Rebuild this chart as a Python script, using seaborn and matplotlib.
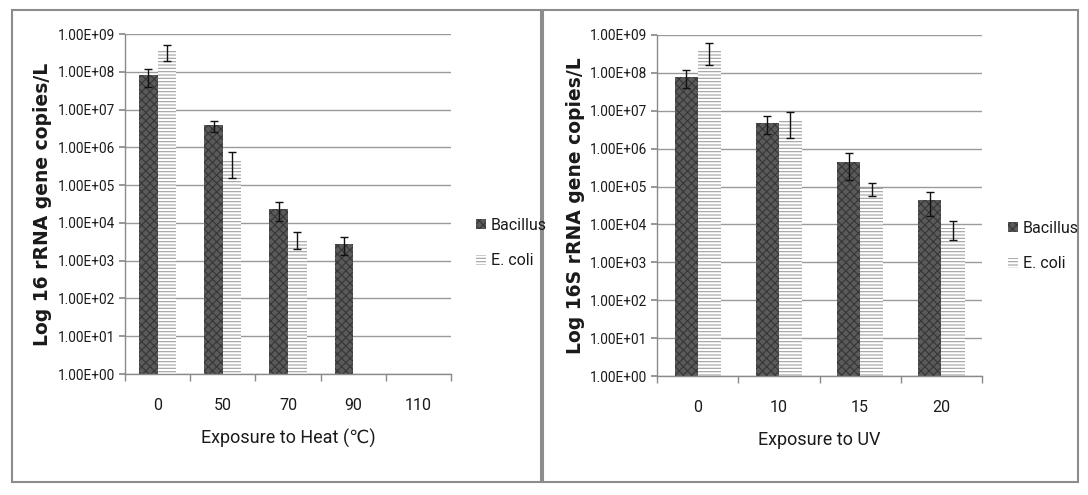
import numpy as np
import pandas as pd
import seaborn as sns
import matplotlib.pyplot as plt
from matplotlib import font_manager
from matplotlib.patches import Patch, Rectangle
from matplotlib.ticker import FixedLocator, FuncFormatter

# Heat exposure panel (deg C)
heat_levels = ["0", "50", "70", "90", "110"]
heat_bacillus = [8.0e7, 3.8e6, 2.3e4, 2.8e3, np.nan]
heat_bacillus_err = [4.0e7, 1.3e6, 1.2e4, 1.4e3, np.nan]
heat_ecoli = [3.5e8, 4.5e5, 3.8e3, np.nan, np.nan]
heat_ecoli_err = [1.6e8, 3.0e5, 1.8e3, np.nan, np.nan]

# UV exposure panel
uv_levels = ["0", "10", "15", "20"]
uv_bacillus = [8.0e7, 4.8e6, 4.5e5, 4.4e4]
uv_bacillus_err = [4.0e7, 2.3e6, 3.0e5, 2.7e4]
uv_ecoli = [3.8e8, 5.5e6, 9.0e4, 8.0e3]
uv_ecoli_err = [2.2e8, 3.6e6, 3.5e4, 4.0e3]

organisms = ["Bacillus", "E. coli"]
decades = [10.0 ** k for k in range(0, 10)]

installed = {f.name for f in font_manager.fontManager.ttflist}
narrow = "Liberation Sans Narrow" if "Liberation Sans Narrow" in installed else "Roboto"

sns.set_theme(style="white")
plt.rcParams["font.family"] = [narrow, "DejaVu Sans"]
plt.rcParams["hatch.linewidth"] = 0.8

styles = {
    "Bacillus": dict(facecolor="#5a5a5a", edgecolor="#363636", hatch="xxxx"),
    "E. coli": dict(facecolor="white", edgecolor="#a0a0a0", hatch="-----"),
}


def build_frame(levels, bac, eco):
    rows = []
    for lvl, b, e in zip(levels, bac, eco):
        rows.append({"level": lvl, "organism": "Bacillus", "value": b})
        rows.append({"level": lvl, "organism": "E. coli", "value": e})
    return pd.DataFrame(rows).dropna()


def draw_panel(ax, levels, bac, bac_err, eco, eco_err, xlabel, ylabel):
    df = build_frame(levels, bac, eco)
    sns.barplot(
        data=df, x="level", y="value", hue="organism",
        order=levels, hue_order=organisms, errorbar=None,
        width=0.57, gap=0, legend=False, ax=ax,
        palette={"Bacillus": "#5a5a5a", "E. coli": "white"},
    )
    errs = {"Bacillus": bac_err, "E. coli": eco_err}
    for org, cont in zip(organisms, ax.containers):
        xs, ys, es = [], [], []
        for bar in cont:
            bar.set(**styles[org], linewidth=0)
            cx = bar.get_x() + bar.get_width() / 2
            idx = int(round(cx))
            xs.append(cx)
            ys.append(bar.get_height())
            es.append(errs[org][idx])
        ax.errorbar(xs, ys, yerr=es, fmt="none", ecolor="#111111",
                    elinewidth=1, capsize=3, capthick=1, zorder=5)

    ax.set_yscale("log")
    ax.set_ylim(1, 1e9)
    ax.set_xlim(-0.5, len(levels) - 0.5)
    ax.yaxis.set_major_locator(FixedLocator(decades))
    ax.yaxis.set_minor_locator(FixedLocator([]))
    ax.yaxis.set_major_formatter(FuncFormatter(lambda v, p: f"{v:.2E}"))
    ax.xaxis.set_minor_locator(FixedLocator(np.arange(-0.5, len(levels), 1.0)))
    ax.grid(axis="y", color="#9a9a9a", linewidth=1)
    ax.set_axisbelow(True)
    for s in ["top", "right"]:
        ax.spines[s].set_visible(False)
    for s in ["left", "bottom"]:
        ax.spines[s].set_color("#8a8a8a")
        ax.spines[s].set_linewidth(1)
    ax.tick_params(axis="y", which="major", direction="out", length=4,
                   color="#8a8a8a", labelsize=9.8, labelcolor="#1a1a1a", pad=3,
                   left=True)
    ax.tick_params(axis="x", which="major", length=0, labelsize=11.5,
                   labelcolor="#1a1a1a", pad=17)
    ax.tick_params(axis="x", which="minor", direction="out", length=5,
                   color="#8a8a8a", bottom=True)
    ax.set_xlabel(xlabel, fontsize=13, color="#1a1a1a", labelpad=12,
                  family=[narrow, "DejaVu Sans"])
    ax.set_ylabel(ylabel, fontsize=13.5, fontweight="bold", color="#1a1a1a",
                  family="DejaVu Sans", labelpad=4)


fig = plt.figure(figsize=(10.88, 4.95), dpi=100)
ax1 = fig.add_axes([0.1149, 0.2444, 0.2996, 0.6869])
ax2 = fig.add_axes([0.6039, 0.2404, 0.2987, 0.6889])

draw_panel(ax1, heat_levels, heat_bacillus, heat_bacillus_err, heat_ecoli,
           heat_ecoli_err, "Exposure to Heat (\u2103)", "Log 16 rRNA gene copies/L")
draw_panel(ax2, uv_levels, uv_bacillus, uv_bacillus_err, uv_ecoli,
           uv_ecoli_err, "Exposure to UV", "Log 16S rRNA gene copies/L")

handles = [Patch(linewidth=0, label=o, **styles[o]) for o in organisms]
for anchor in [(462 / 1088, 1 - 243 / 495), (994 / 1088, 1 - 246 / 495)]:
    fig.legend(handles=handles, loc="center left", bbox_to_anchor=anchor,
               frameon=False, fontsize=11.5, handlelength=0.6, handleheight=0.6,
               handletextpad=0.3, labelspacing=1.3, labelcolor="#1a1a1a")

# panel frames
for x0, x1 in [(12, 541), (543, 1078)]:
    fig.add_artist(Rectangle((x0 / 1088, 1 - 482 / 495), (x1 - x0) / 1088,
                             472 / 495, transform=fig.transFigure, fill=False,
                             edgecolor="#8c8c8c", linewidth=1.5))

fig.savefig("out.png", dpi=100)
